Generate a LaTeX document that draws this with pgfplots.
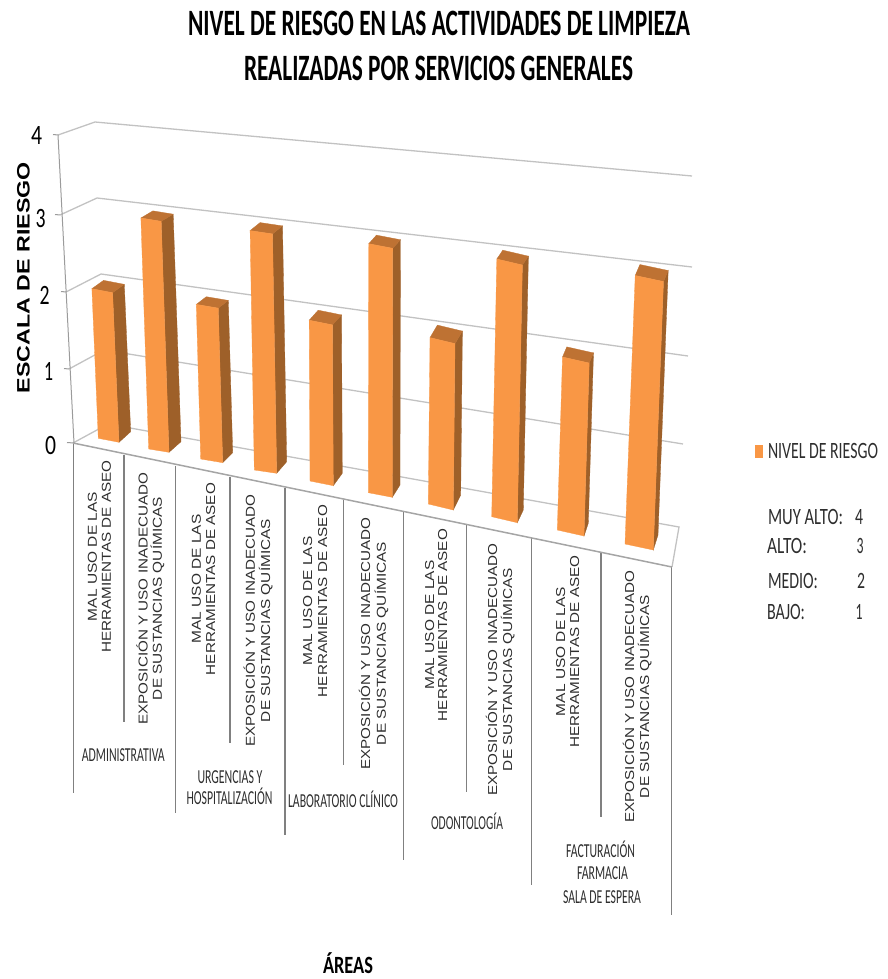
\documentclass[border=0pt]{standalone}
\usepackage{graphicx}
\usepackage{fontspec}
\usepackage{pgfplots}
\usepackage{pgfplotstable}
\pgfplotsset{compat=1.18}
\setmainfont{Carlito}
\newfontfamily\arialfont{Liberation Sans}

\definecolor{barfront}{HTML}{F99745}
\definecolor{barside}{HTML}{9E6029}
\definecolor{bartop}{HTML}{BE7233}
\definecolor{gridgray}{HTML}{C2C2C2}
\definecolor{dropgray}{HTML}{808080}
\definecolor{labelgray}{HTML}{2E2E2E}

% Sets #3 to a given width (#1, in pt) with a vertical scale of #2.
\newsavebox\fitbox
\newcommand\fitw[3]{\sbox\fitbox{#3}\pgfmathsetmacro\fitx{#1/\wd\fitbox}\scalebox{\fitx}[#2]{\usebox\fitbox}}

% Two lines of a rotated category label: x of each line's baseline, common centre y, lengths.
\newcommand\rotlabel[7]{%
  \node[rotate=90,anchor=base,inner sep=0pt,text=labelgray] at (axis cs:#1,#3) {\arialfont\fontsize{12}{14}\selectfont\fitw{#4}{1.08}{#6}};
  \node[rotate=90,anchor=base,inner sep=0pt,text=labelgray] at (axis cs:#2,#3) {\arialfont\fontsize{12}{14}\selectfont\fitw{#5}{1.08}{#7}};
}
\newcommand\malrot[3]{\rotlabel{#1}{#2}{#3}{129}{192}{MAL USO DE LAS}{HERRAMIENTAS DE ASEO}}
\newcommand\exprot[3]{\rotlabel{#1}{#2}{#3}{252}{203}{EXPOSICIÓN Y USO INADECUADO}{DE SUSTANCIAS QUÍMICAS}}

% Narrow horizontal label: centre x, baseline y, width, vertical scale, text.
\newcommand\flatlabel[5]{%
  \node[anchor=base,inner sep=0pt,text=labelgray] at (axis cs:#1,#2) {\fontsize{12}{14}\selectfont\fitw{#3}{#4}{#5}};
}

% Bars: value, front-left, front-right and back-right floor corners, rise per unit of value.
\pgfplotstableread{
value xfl   yfl   xfr   yfr   xbr   ybr   ux    uy
2     98.3  438.3 119.0 442.3 130.7 431.7 -3.2  -74.8
3     148.7 449.0 169.0 452.3 181.0 441.7 -2.6  -77.0
2     200.7 459.0 222.7 462.7 232.7 452.7 -2.2  -77.3
3     254.3 470.0 276.7 473.3 286.7 461.7 -1.4  -79.8
2     310.0 481.0 333.3 485.7 342.3 473.3 -0.4  -80.4
3     368.3 492.7 392.3 497.3 400.0 485.0 0.15  -83.0
2     428.3 504.0 453.3 510.0 460.7 495.0 0.85  -83.2
3     491.7 516.7 517.3 522.7 523.3 510.0 1.7   -85.9
2     557.3 530.0 584.0 536.0 588.3 523.3 2.6   -86.5
3     625.0 544.0 653.3 550.0 658.0 535.0 3.4   -89.5
}\riskbars

\newcommand\getcell[2]{\pgfplotstablegetelem{#1}{#2}\of\riskbars\expandafter\let\csname c#2\endcsname\pgfplotsretval}

\begin{document}
\begin{tikzpicture}
\begin{axis}[
  axis lines=none,
  scale only axis,
  width=888pt,
  height=979pt,
  xmin=0,xmax=888,
  ymin=0,ymax=979,
  y dir=reverse,
  clip=false,
]
\path (axis cs:0,0) rectangle (axis cs:888,979);

% Back wall gridlines and side wall
\addplot[gridgray,line width=1.3pt] coordinates {(58,135)(95,122)(692,176)};
\addplot[gridgray,line width=1.3pt] coordinates {(60,215)(97,198)(692,267)};
\addplot[gridgray,line width=1.3pt] coordinates {(66,292)(101,274)(688,356)};
\addplot[gridgray,line width=1.3pt] coordinates {(69,369)(104,350)(683,444)};
\addplot[gridgray,line width=1.3pt] coordinates {(73,443)(108,424)(679,527)(672,567)};

% Value axis and its ticks
\addplot[gridgray!80!black,line width=1pt] coordinates {(58,135)(74,443)};
\addplot[gridgray!80!black,line width=1pt] coordinates {(53,134.5)(58,135)};
\addplot[gridgray!80!black,line width=1pt] coordinates {(55,214.5)(60,215)};
\addplot[gridgray!80!black,line width=1pt] coordinates {(61,291.5)(66,292)};
\addplot[gridgray!80!black,line width=1pt] coordinates {(64,368.5)(69,369)};
\addplot[gridgray!80!black,line width=1pt] coordinates {(67,442.5)(74,443)};

% Category dividers hanging below the front floor edge
\addplot[dropgray,line width=1.2pt] coordinates {(73.3,443)(73.3,793)};
\addplot[dropgray,line width=1.2pt] coordinates {(124,455)(124,722)};
\addplot[dropgray,line width=1.2pt] coordinates {(175.7,465.7)(175.7,813)};
\addplot[dropgray,line width=1.2pt] coordinates {(230,476.7)(230,743)};
\addplot[dropgray,line width=1.2pt] coordinates {(285,488)(285,835)};
\addplot[dropgray,line width=1.2pt] coordinates {(343.3,500)(343.3,765)};
\addplot[dropgray,line width=1.2pt] coordinates {(403.3,511.7)(403.3,860)};
\addplot[dropgray,line width=1.2pt] coordinates {(466.7,524)(466.7,792)};
\addplot[dropgray,line width=1.2pt] coordinates {(531.7,538)(531.7,885)};
\addplot[dropgray,line width=1.2pt] coordinates {(601,552.7)(601,817)};
\addplot[dropgray,line width=1.2pt] coordinates {(671.7,566.7)(671.7,915)};
\addplot[gridgray!85!black,line width=1.5pt] coordinates {(73,443)(672,567)};

% The ten bars: side face, top face and front face
\pgfplotsforeachungrouped \i in {0,...,9}{
  \getcell{\i}{value}\getcell{\i}{xfl}\getcell{\i}{yfl}\getcell{\i}{xfr}\getcell{\i}{yfr}%
  \getcell{\i}{xbr}\getcell{\i}{ybr}\getcell{\i}{ux}\getcell{\i}{uy}%
  \pgfmathsetmacro\xa{\cxfl+\cvalue*\cux}\pgfmathsetmacro\ya{\cyfl+\cvalue*\cuy}%
  \pgfmathsetmacro\xb{\cxfr+\cvalue*\cux}\pgfmathsetmacro\yb{\cyfr+\cvalue*\cuy}%
  \pgfmathsetmacro\xc{\cxbr+\cvalue*\cux}\pgfmathsetmacro\yc{\cybr+0.985*\cvalue*\cuy}%
  \pgfmathsetmacro\xd{\xa+\xc-\xb}\pgfmathsetmacro\yd{\ya+\yc-\yb}%
  \edef\drawbar{%
    \noexpand\addplot[fill=barside,draw=barside,line width=0.3pt] coordinates {(\cxfr,\cyfr)(\cxbr,\cybr)(\xc,\yc)(\xb,\yb)} --cycle;
    \noexpand\addplot[fill=bartop,draw=bartop,line width=0.3pt] coordinates {(\xa,\ya)(\xb,\yb)(\xc,\yc)(\xd,\yd)} --cycle;
    \noexpand\addplot[fill=barfront,draw=barfront,line width=0.3pt] coordinates {(\cxfl,\cyfl)(\cxfr,\cyfr)(\xb,\yb)(\xa,\ya)} --cycle;
  }\drawbar
}

% Title
\node[anchor=base,inner sep=0pt] at (axis cs:439,36) {\fontsize{20}{24}\selectfont\bfseries\fitw{502}{1.86}{NIVEL DE RIESGO EN LAS ACTIVIDADES DE LIMPIEZA}};
\node[anchor=base,inner sep=0pt] at (axis cs:438.5,81) {\fontsize{20}{24}\selectfont\bfseries\fitw{389}{1.86}{REALIZADAS POR SERVICIOS GENERALES}};

% Value axis numbers and title
\node[anchor=base,inner sep=0pt] at (axis cs:36.7,144) {\fontsize{16}{18}\selectfont\fitw{11}{1.75}{4}};
\node[anchor=base,inner sep=0pt] at (axis cs:40.7,227) {\fontsize{16}{18}\selectfont\fitw{10}{1.75}{3}};
\node[anchor=base,inner sep=0pt] at (axis cs:44.7,304) {\fontsize{16}{18}\selectfont\fitw{10}{1.75}{2}};
\node[anchor=base,inner sep=0pt] at (axis cs:48.7,380.5) {\fontsize{16}{18}\selectfont\fitw{9}{1.75}{1}};
\node[anchor=base,inner sep=0pt] at (axis cs:50.7,454) {\fontsize{16}{18}\selectfont\fitw{11}{1.75}{0}};
\node[rotate=90,anchor=base,inner sep=0pt] at (axis cs:29.5,277.5) {\arialfont\fontsize{18}{20}\selectfont\bfseries\fitw{231}{1}{ESCALA DE RIESGO}};

% Rotated activity labels
\malrot{96.9}{110.9}{556.5}
\exprot{147.5}{161.9}{598.5}
\malrot{200.9}{215.2}{579}
\exprot{254.9}{270.2}{620.5}
\malrot{312.2}{327.2}{601}
\exprot{370.2}{385.9}{643.5}
\malrot{434.2}{447.2}{625}
\exprot{497.2}{512.2}{669.5}
\malrot{565.2}{579.2}{651.5}
\exprot{634.2}{649.2}{696.5}

% Area names
\flatlabel{123.3}{761}{83}{1.65}{ADMINISTRATIVA}
\flatlabel{230}{783}{65}{1.65}{URGENCIAS Y}
\flatlabel{229.5}{804.5}{86}{1.65}{HOSPITALIZACIÓN}
\flatlabel{343}{807.5}{110}{1.65}{LABORATORIO CLÍNICO}
\flatlabel{467}{829}{72}{1.65}{ODONTOLOGÍA}
\flatlabel{600.5}{857}{69}{1.65}{FACTURACIÓN}
\flatlabel{602.5}{879.5}{51}{1.65}{FARMACIA}
\flatlabel{602}{903.5}{78}{1.65}{SALA DE ESPERA}
\node[anchor=base,inner sep=0pt] at (axis cs:348,973) {\fontsize{16}{18}\selectfont\bfseries\fitw{50}{1.55}{ÁREAS}};

% Legend swatch, entry and risk scale key
\addplot[fill=barfront,draw=none] coordinates {(755,445)(763.3,445)(763.3,458)(755,458)} --cycle;
\flatlabel{823}{458}{110}{1.95}{NIVEL DE RIESGO}
\flatlabel{805.5}{524}{75}{1.95}{MUY ALTO:}
\flatlabel{787}{553}{40}{1.95}{ALTO:}
\flatlabel{793}{588}{50}{1.95}{MEDIO:}
\flatlabel{786}{619}{38}{1.95}{BAJO:}
\flatlabel{859}{524}{8}{1.95}{4}
\flatlabel{860}{553}{7}{1.95}{3}
\flatlabel{861}{588}{8}{1.95}{2}
\flatlabel{859}{619}{7}{1.95}{1}
\end{axis}
\end{tikzpicture}
\end{document}
